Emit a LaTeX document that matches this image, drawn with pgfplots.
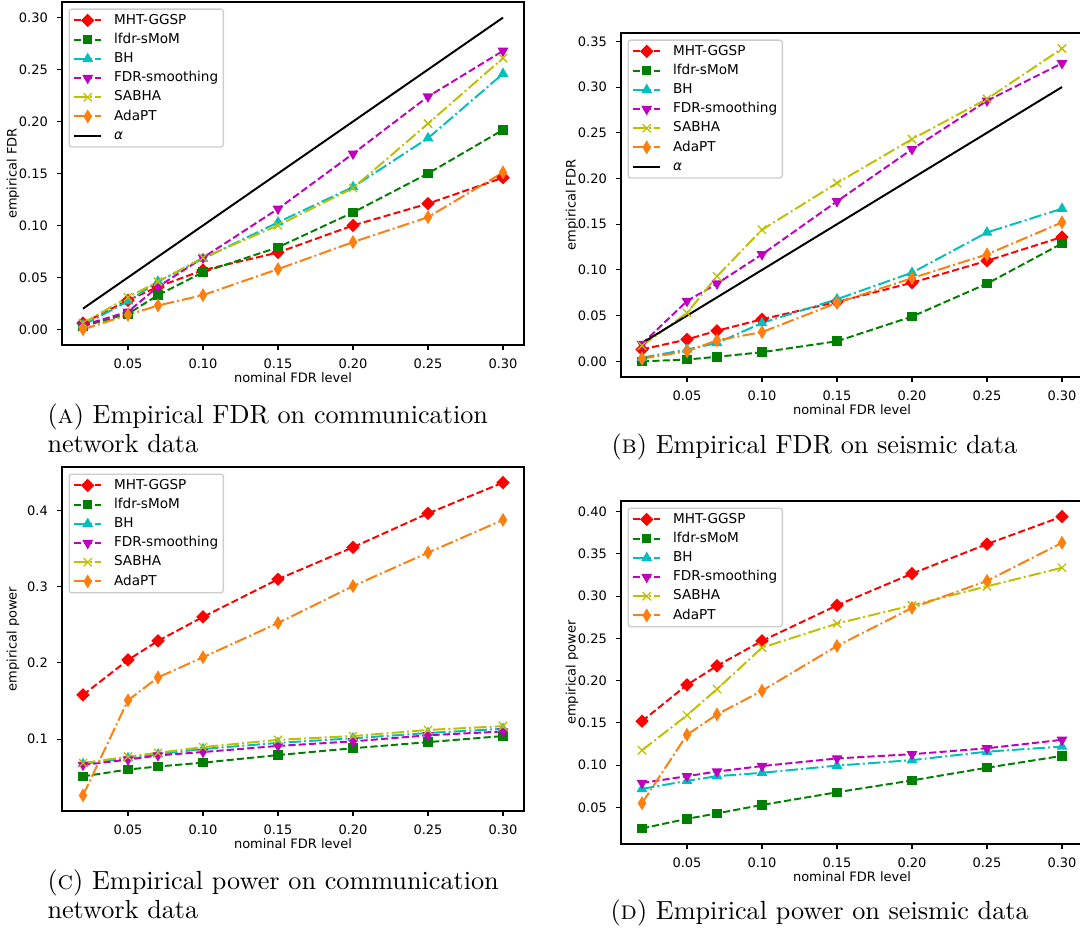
\documentclass[border=0pt]{standalone}
\usepackage{fontspec}
\usepackage{pgfplots}
\usepackage{pgfplotstable}
\pgfplotsset{compat=1.18}
\newfontfamily\dejavu{DejaVu Sans}
\definecolor{mred}{HTML}{FF0000}
\definecolor{mgreen}{HTML}{008000}
\definecolor{mcyan}{HTML}{00BFBF}
\definecolor{mmag}{HTML}{BF00BF}
\definecolor{myel}{HTML}{BFBF00}
\definecolor{morange}{HTML}{FF7F0E}
\definecolor{mlegend}{HTML}{CCCCCC}

\pgfplotstableread{
x    mht    lfdr   bh     fdrs   sabha  adapt
0.02 0.006  0.003  0.004  0.004  0.006  0.000
0.05 0.028  0.015  0.027  0.017  0.031  0.014
0.07 0.041  0.033  0.046  0.041  0.046  0.023
0.10 0.057  0.055  0.068  0.069  0.069  0.033
0.15 0.074  0.079  0.103  0.116  0.100  0.058
0.20 0.100  0.1125 0.137  0.169  0.136  0.084
0.25 0.121  0.150  0.184  0.224  0.198  0.108
0.30 0.146  0.192  0.246  0.268  0.261  0.151
}\tableA
\pgfplotstableread{
x    mht    lfdr   bh     fdrs   sabha  adapt
0.02 0.013  0.000  0.004  0.019  0.017  0.003
0.05 0.024  0.002  0.013  0.066  0.053  0.011
0.07 0.0335 0.005  0.020  0.085  0.093  0.023
0.10 0.046  0.010  0.042  0.117  0.144  0.032
0.15 0.065  0.022  0.068  0.175  0.195  0.064
0.20 0.086  0.049  0.097  0.232  0.243  0.091
0.25 0.110  0.085  0.141  0.285  0.287  0.117
0.30 0.136  0.129  0.167  0.326  0.342  0.152
}\tableB
\pgfplotstableread{
x    mht    lfdr   bh     fdrs   sabha  adapt
0.02 0.158  0.051  0.0675 0.066  0.0685 0.026
0.05 0.204  0.060  0.075  0.073  0.077  0.151
0.07 0.229  0.064  0.080  0.0785 0.082  0.181
0.10 0.2605 0.069  0.087  0.083  0.0895 0.2075
0.15 0.310  0.079  0.095  0.091  0.099  0.2525
0.20 0.352  0.088  0.101  0.097  0.104  0.301
0.25 0.3965 0.096  0.108  0.105  0.112  0.345
0.30 0.437  0.104  0.1135 0.110  0.117  0.388
}\tableC
\pgfplotstableread{
x    mht    lfdr   bh     fdrs   sabha  adapt
0.02 0.152  0.0252 0.072  0.079  0.1176 0.055
0.05 0.195  0.0366 0.0815 0.087  0.159  0.136
0.07 0.2175 0.043  0.087  0.0925 0.190  0.160
0.10 0.247  0.053  0.091  0.099  0.239  0.188
0.15 0.289  0.068  0.0995 0.108  0.2675 0.241
0.20 0.3265 0.082  0.106  0.113  0.289  0.286
0.25 0.3615 0.097  0.116  0.120  0.3115 0.318
0.30 0.394  0.111  0.122  0.130  0.3335 0.363
}\tableD

\pgfplotsset{
  dashedl/.style={line width=0.98pt, dash pattern=on 3.6pt off 1.56pt},
  dashdotl/.style={line width=0.98pt, dash pattern=on 6.24pt off 1.56pt on 0.98pt off 1.56pt},
  smht/.style={mred, dashedl, mark=square*, mark size=2.05pt,
    mark options={solid, rotate=45, fill=mred, line width=0.65pt, sharp corners}},
  slfdr/.style={mgreen, dashedl, mark=square*, mark size=2.05pt,
    mark options={solid, fill=mgreen, line width=0.65pt, sharp corners}},
  sbh/.style={mcyan, dashdotl, mark=triangle*, mark size=2.5pt,
    mark options={solid, fill=mcyan, line width=0.65pt, sharp corners}},
  sfdrs/.style={mmag, dashedl, mark=triangle*, mark size=2.5pt,
    mark options={solid, rotate=180, fill=mmag, line width=0.65pt, sharp corners}},
  ssabha/.style={myel, dashdotl, mark=x, mark size=2.9pt,
    mark options={solid, line width=0.65pt, sharp corners}},
  sadapt/.style={morange, dashdotl, mark=diamond*, mark size=2.9pt,
    mark options={solid, xscale=0.8, fill=morange, line width=0.65pt, sharp corners}},
  salpha/.style={black, solid, line width=0.98pt},
  panel/.style={
    scale only axis, width=231pt, anchor=north west,
    xmin=0.006, xmax=0.314,
    xtick={0.05,0.10,0.15,0.20,0.25,0.30},
    tick align=outside, xtick pos=bottom, ytick pos=left,
    major tick length=2.3pt,
    every tick/.style={black, line width=0.52pt},
    axis line style={line width=0.52pt},
    tick label style={font={\dejavu\fontsize{6.5}{7.8}\selectfont}},
    /pgf/number format/assume math mode=true,
    xticklabel style={anchor=north, inner sep=0pt, yshift=-4.6pt,
      /pgf/number format/.cd, fixed, fixed zerofill, precision=2},
    xlabel={nominal FDR level},
    every axis x label/.style={at={(axis description cs:0.5,-0.096)}, anchor=center,
      font={\dejavu\fontsize{6.5}{7.8}\selectfont}},
    every axis y label/.style={at={(axis description cs:-0.106,0.5)}, anchor=center, rotate=90,
      font={\dejavu\fontsize{6.5}{7.8}\selectfont}},
    legend cell align=left,
    legend style={at={(axis description cs:0,1)}, anchor=north west,
      xshift=3.25pt, yshift=-3.25pt, draw=mlegend, line width=0.65pt,
      rounded corners=1.3pt, fill=white, fill opacity=0.8, text opacity=1, draw opacity=1,
      inner xsep=2pt, inner ysep=1.8pt, row sep=1.9pt, column sep=5.3pt,
      font={\dejavu\fontsize{6.8}{8.2}\selectfont},
      nodes={inner sep=0.6pt, text height=5.1pt, text depth=1.4pt, anchor=west}},
    legend image code/.code={\draw[sharp corners, fill opacity=1, draw opacity=1, mark repeat=2, mark phase=2]
      plot coordinates {(0pt,0pt) (6.8pt,0pt) (13.6pt,0pt)};},
  },
}

\begin{document}
\begin{tikzpicture}
\useasboundingbox (0,0) rectangle (540pt,-465.5pt);

% (A)
\begin{axis}[panel, at={(31pt,-1pt)}, height=171.5pt,
  ymin=-0.015, ymax=0.315, ytick={0,0.05,0.10,0.15,0.20,0.25,0.30},
  yticklabel style={anchor=east, inner sep=0pt, xshift=-4.6pt,
    /pgf/number format/.cd, fixed, fixed zerofill, precision=2},
  ylabel={empirical FDR}]
\addplot[smht] table[x=x,y=mht]{\tableA}; \addlegendentry{MHT-GGSP}
\addplot[slfdr] table[x=x,y=lfdr]{\tableA}; \addlegendentry{lfdr-sMoM}
\addplot[sbh] table[x=x,y=bh]{\tableA}; \addlegendentry{BH}
\addplot[sfdrs] table[x=x,y=fdrs]{\tableA}; \addlegendentry{FDR-smoothing}
\addplot[ssabha] table[x=x,y=sabha]{\tableA}; \addlegendentry{SABHA}
\addplot[sadapt] table[x=x,y=adapt]{\tableA}; \addlegendentry{AdaPT}
\addplot[salpha] coordinates {(0.02,0.02) (0.30,0.30)}; \addlegendentry{\textit{α}}
\end{axis}

% (B)
\begin{axis}[panel, at={(310.5pt,-16.5pt)}, height=172pt,
  ymin=-0.0171, ymax=0.3591, ytick={0,0.05,0.10,0.15,0.20,0.25,0.30,0.35},
  yticklabel style={anchor=east, inner sep=0pt, xshift=-4.6pt,
    /pgf/number format/.cd, fixed, fixed zerofill, precision=2},
  ylabel={empirical FDR}]
\addplot[smht] table[x=x,y=mht]{\tableB}; \addlegendentry{MHT-GGSP}
\addplot[slfdr] table[x=x,y=lfdr]{\tableB}; \addlegendentry{lfdr-sMoM}
\addplot[sbh] table[x=x,y=bh]{\tableB}; \addlegendentry{BH}
\addplot[sfdrs] table[x=x,y=fdrs]{\tableB}; \addlegendentry{FDR-smoothing}
\addplot[ssabha] table[x=x,y=sabha]{\tableB}; \addlegendentry{SABHA}
\addplot[sadapt] table[x=x,y=adapt]{\tableB}; \addlegendentry{AdaPT}
\addplot[salpha] coordinates {(0.02,0.02) (0.30,0.30)}; \addlegendentry{\textit{α}}
\end{axis}

% (C)
\begin{axis}[panel, at={(31pt,-233.5pt)}, height=172pt,
  ymin=0.0055, ymax=0.4575, ytick={0.1,0.2,0.3,0.4},
  yticklabel style={anchor=east, inner sep=0pt, xshift=-4.6pt,
    /pgf/number format/.cd, fixed, fixed zerofill, precision=1},
  ylabel={empirical power}]
\addplot[smht] table[x=x,y=mht]{\tableC}; \addlegendentry{MHT-GGSP}
\addplot[slfdr] table[x=x,y=lfdr]{\tableC}; \addlegendentry{lfdr-sMoM}
\addplot[sbh] table[x=x,y=bh]{\tableC}; \addlegendentry{BH}
\addplot[sfdrs] table[x=x,y=fdrs]{\tableC}; \addlegendentry{FDR-smoothing}
\addplot[ssabha] table[x=x,y=sabha]{\tableC}; \addlegendentry{SABHA}
\addplot[sadapt] table[x=x,y=adapt]{\tableC}; \addlegendentry{AdaPT}
\end{axis}

% (D)
\begin{axis}[panel, at={(310.5pt,-250.5pt)}, height=171.5pt,
  ymin=0.0068, ymax=0.4124, ytick={0.05,0.10,0.15,0.20,0.25,0.30,0.35,0.40},
  yticklabel style={anchor=east, inner sep=0pt, xshift=-4.6pt,
    /pgf/number format/.cd, fixed, fixed zerofill, precision=2},
  ylabel={empirical power}]
\addplot[smht] table[x=x,y=mht]{\tableD}; \addlegendentry{MHT-GGSP}
\addplot[slfdr] table[x=x,y=lfdr]{\tableD}; \addlegendentry{lfdr-sMoM}
\addplot[sbh] table[x=x,y=bh]{\tableD}; \addlegendentry{BH}
\addplot[sfdrs] table[x=x,y=fdrs]{\tableD}; \addlegendentry{FDR-smoothing}
\addplot[ssabha] table[x=x,y=sabha]{\tableD}; \addlegendentry{SABHA}
\addplot[sadapt] table[x=x,y=adapt]{\tableD}; \addlegendentry{AdaPT}
\end{axis}

\begin{scope}[every node/.style={anchor=base west, inner sep=0pt, scale=1.31, font=\fontsize{10}{12}\selectfont}]
\node at (23.5pt,-211.5pt) {(\textsc{a}) Empirical FDR on communication};
\node at (23.5pt,-226pt) {network data};
\node at (305.5pt,-226.5pt) {(\textsc{b}) Empirical FDR on seismic data};
\node at (23.5pt,-444.5pt) {(\textsc{c}) Empirical power on communication};
\node at (23.5pt,-459pt) {network data};
\node at (305pt,-459.5pt) {(\textsc{d}) Empirical power on seismic data};
\end{scope}
\end{tikzpicture}
\end{document}
